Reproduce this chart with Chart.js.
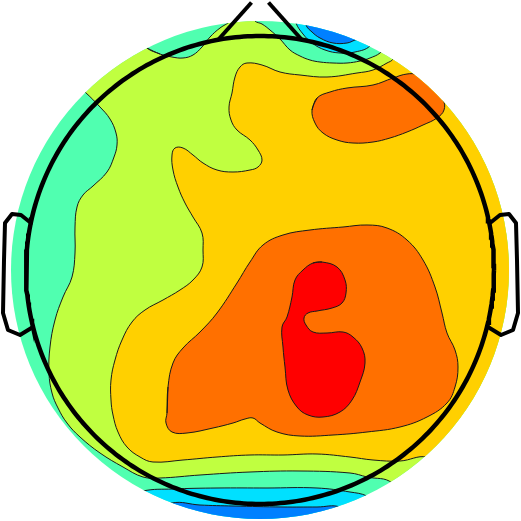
<!DOCTYPE html>
<html><head><meta charset="utf-8">
<script src="https://cdn.jsdelivr.net/npm/chart.js@4.4.1/dist/chart.umd.min.js"></script>
<style>html,body{margin:0;padding:0;background:#fff;}canvas{display:block;}</style>
</head><body>
<canvas id="c" width="521" height="521"></canvas>
<script>
// Scalp map coordinates (head centre = 0,0; y up). Head radius 234, interpolated disc radius 249.
const HEAD_RADIUS = 234;
const DISC_RADIUS = 249;

// Filled contour regions, each level painted over the lower ones.
const regionYellowGreen = [[-113,222],[-100,216],[-88,213],[-77,212],[-67,215],[-58,223],[-50,233],[-40,242],[-32,247],
 [-20,256],[-10,258],[-5,249],[2,246],[10,240],[20,231],[30,220],[40,214],[50,210],[60,208],[73,207],[87,207],[100,209],[110,212],[120,217],
 [140,235],[261,270],[261,-251],[160,-251],
 [132,-213],[107,-207],[90,-203],[40,-201],[-10,-202],[-60,-205],[-100,-208],[-117,-207],[-137,-197],[-160,-183],[-180,-167],[-193,-153],
 [-202,-138],[-208,-123],[-211,-103],[-210,-77],[-205,-50],[-197,-27],[-188,-7],[-185,17],[-185,43],[-183,63],[-177,75],[-167,84],
 [-153,98],[-146,113],[-143,125],[-144,137],[-150,151],[-160,163],[-175,178],[-200,200],[-140,250]];
const regionGold = [[140,230],[133,211],[127,207],[113,200],[97,197],[67,193],[40,195],[20,198],[2,205],[-13,207],[-20,203],[-25,193],
 [-28,177],[-31,163],[-29,150],[-23,140],[-10,130],[-2,120],[2,110],[-2,103],[-10,100],[-27,98],[-43,100],[-57,107],[-67,115],[-77,122],
 [-85,122],[-88,115],[-87,100],[-82,83],[-75,67],[-67,53],[-58,37],[-57,20],[-58,3],[-67,-10],[-80,-20],[-97,-30],[-115,-40],[-128,-52],
 [-138,-70],[-145,-90],[-149,-110],[-149,-130],[-147,-145],[-142,-162],[-133,-177],[-120,-187],[-107,-192],[-77,-190],[-43,-187],[-10,-185],
 [23,-185],[57,-184],[90,-187],[113,-190],[140,-191],[167,-187],[190,-200],[261,-251],[261,270],[160,270]];
const regionOrangeFrontal = [[52,160],[57,172],[70,178],[87,182],[113,185],[133,192],[147,196],[157,195],[170,183],[183,170],[184,160],
 [177,152],[163,145],[147,138],[130,132],[113,128],[93,127],[77,130],[63,137],[55,147]];
const regionOrangeCentral = [[-93,-143],[-92,-117],[-87,-93],[-77,-78],[-60,-62],[-43,-43],[-23,-13],[-10,8],[3,25],[23,35],[50,40],[83,43],
 [107,45],[127,42],[147,30],[163,10],[175,-17],[182,-43],[187,-63],[195,-80],[198,-97],[195,-117],[187,-133],[167,-147],[140,-157],
 [107,-162],[73,-165],[40,-166],[17,-162],[0,-153],[-7,-148],[-15,-149],[-27,-153],[-47,-158],[-73,-163],[-88,-162],[-94,-153]];
const regionRed = [[53,7],[62,8],[77,3],[85,-10],[86,-23],[82,-33],[72,-38],[57,-41],[48,-43],[44,-48],[46,-55],[53,-62],[67,-63],[83,-62],
 [93,-67],[102,-78],[105,-93],[100,-112],[92,-130],[80,-142],[63,-147],[48,-145],[37,-137],[28,-120],[25,-97],[23,-77],[22,-57],[27,-47],
 [32,-27],[35,-10],[43,0]];
const regionCyanPosterior = [[-140,-230],[-117,-221],[-87,-219],[-43,-218],[7,-218],[57,-218],[90,-222],[107,-226],[130,-240],[140,-251],[-140,-251]];
const regionBluePosterior = [[-110,-245],[-88,-233],[-60,-235],[-27,-236],[23,-237],[57,-237],[80,-237],[100,-251],[-110,-251]];
const regionCyanFrontal = [[30,270],[36,247],[43,236],[52,227],[65,220],[80,217],[95,218],[110,224],[125,245],[110,270]];
const regionBlueFrontal = [[40,270],[46,245],[52,238],[60,232],[73,227],[87,227],[95,230],[100,232],[115,260]];

const regionList = [regionYellowGreen, regionGold, regionOrangeFrontal, regionOrangeCentral, regionRed,
  regionCyanPosterior, regionBluePosterior, regionCyanFrontal, regionBlueFrontal];
const regionColors = ['#C0FF40', '#FFD000', '#FF7000', '#FF7000', '#FF0000', '#00E0FF', '#0080FF', '#00E0FF', '#0080FF'];
const baseColor = '#50FFB0';

// Head outline: nose (cut at the top of the frame) and ears.
const noseLeft = [[-42,230],[-8.5,267.5]];
const noseRight = [[42,230],[8.5,267.5]];
const earLeft = [[-229,47],[-239,55],[-248,56],[-255,47],[-256,10],[-257,-43],[-252,-60],[-240,-65],[-227,-57]];
const earRight = [[230,47],[240,55],[249,56],[256,47],[257,10],[258,-43],[253,-60],[241,-65],[228,-57]];

const toXY = pts => pts.map(([x, y]) => ({x, y}));
const closeLoop = pts => pts.concat([pts[0], pts[1]]);
const circle = (r, n) => Array.from({length: n + 1}, (_, i) => {
  const a = 2 * Math.PI * i / n; return [r * Math.cos(a), r * Math.sin(a)];
});

const datasets = [];
datasets.push({data: toXY(circle(DISC_RADIUS + 10, 90)), fill: 'shape', backgroundColor: baseColor,
  borderWidth: 0, borderColor: 'rgba(0,0,0,0)', pointRadius: 0, tension: 0});
regionList.forEach((pts, i) => datasets.push({
  data: toXY(closeLoop(pts)), fill: 'shape', backgroundColor: regionColors[i],
  borderColor: '#1a1a1a', borderWidth: 1, pointRadius: 0, tension: 0.4
}));
const LAST_FILL_INDEX = datasets.length - 1;
datasets.push({data: toXY(circle(HEAD_RADIUS, 360)), fill: false, borderColor: '#000', borderWidth: 4.5, pointRadius: 0, tension: 0});
[noseLeft, noseRight].forEach(pts => datasets.push({data: toXY(pts), fill: false, borderColor: '#000',
  borderWidth: 4, pointRadius: 0, tension: 0, borderCapStyle: 'butt'}));
[earLeft, earRight].forEach(pts => datasets.push({data: toXY(pts), fill: false, borderColor: '#000',
  borderWidth: 4, pointRadius: 0, tension: 0, borderJoinStyle: 'round', borderCapStyle: 'round'}));
datasets.forEach((d, i) => { d.order = datasets.length - i; });

const discClip = {
  id: 'discClip',
  beforeDatasetsDraw(chart) {
    const {ctx, scales: {x, y}} = chart;
    const cx = x.getPixelForValue(0), cy = y.getPixelForValue(0);
    const r = x.getPixelForValue(DISC_RADIUS) - cx;
    ctx.save();
    ctx.beginPath();
    ctx.arc(cx, cy, r, 0, Math.PI * 2);
    ctx.clip();
  },
  afterDatasetDraw(chart, args) {
    if (args.index === LAST_FILL_INDEX) chart.ctx.restore();
  }
};

new Chart(document.getElementById('c'), {
  type: 'line',
  data: {datasets},
  options: {
    responsive: false, animation: false, events: [],
    layout: {padding: 0},
    scales: {
      x: {type: 'linear', min: -260, max: 261, display: false},
      y: {type: 'linear', min: -251, max: 270, display: false}
    },
    plugins: {legend: {display: false}, tooltip: {enabled: false}}
  },
  plugins: [discClip]
});
</script>
</body></html>
